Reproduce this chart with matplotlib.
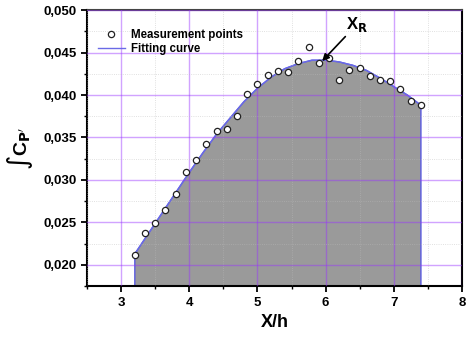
import matplotlib.pyplot as plt
from matplotlib.ticker import FuncFormatter, MultipleLocator

plt.rcParams['font.family'] = ['Liberation Sans', 'DejaVu Sans']

# measured points
meas_x = [3.20, 3.35, 3.50, 3.65, 3.80, 3.95, 4.10, 4.25, 4.40, 4.55,
          4.70, 4.85, 5.00, 5.15, 5.30, 5.45, 5.60, 5.75, 5.90, 6.05,
          6.20, 6.35, 6.50, 6.65, 6.80, 6.95, 7.10, 7.25, 7.40]
meas_y = [0.0212, 0.0237, 0.0249, 0.0265, 0.0283, 0.0309, 0.0324, 0.0342, 0.0358, 0.0360,
          0.0375, 0.0401, 0.0413, 0.0424, 0.0428, 0.0427, 0.0440, 0.0456, 0.0438, 0.0444,
          0.0418, 0.0430, 0.0432, 0.0423, 0.0418, 0.0416, 0.0407, 0.0393, 0.0388]

# fitting curve
fit_x = [3.2, 3.4, 3.6, 3.8, 4.0, 4.2, 4.4, 4.6, 4.8, 5.0, 5.2,
         5.4, 5.6, 5.8, 6.0, 6.2, 6.4, 6.6, 6.8, 7.0, 7.2, 7.4]
fit_y = [0.0213, 0.0237, 0.0261, 0.0285, 0.0309, 0.0332, 0.0354, 0.0373, 0.0392, 0.0408, 0.0421,
         0.0431, 0.0437, 0.0441, 0.0441, 0.0439, 0.0435, 0.0429, 0.0420, 0.0410, 0.0400, 0.0388]

xr_x, xr_y = 5.95, 0.0440

fig = plt.figure(figsize=(4.66, 3.37), dpi=100)
ax = fig.add_axes([0.187, 0.151, 0.804, 0.819])

ax.fill_between(fit_x, 0.0, fit_y, facecolor='#9a9a9a', edgecolor='#5a5ae0',
                linewidth=1.0, zorder=1)
ax.plot(fit_x, fit_y, color='#6a6ae6', lw=1.0, zorder=2, label='Fitting curve')
ax.plot(meas_x, meas_y, 'o', mfc='white', mec='#222222', ms=4.5, mew=0.9,
        zorder=4, label='Measurement points')

ax.set_xlim(2.5, 8)
ax.set_ylim(0.0175, 0.050)
ax.xaxis.set_major_locator(MultipleLocator(1))
ax.xaxis.set_minor_locator(MultipleLocator(0.5))
ax.yaxis.set_major_locator(MultipleLocator(0.005))
ax.yaxis.set_minor_locator(MultipleLocator(0.0025))
ax.yaxis.set_major_formatter(FuncFormatter(lambda v, p: f"{v:.3f}".replace('.', ',')))

ax.set_axisbelow(False)
ax.grid(which='major', color='#9933ff', alpha=0.45, lw=1.0, zorder=3)
ax.grid(which='minor', color='#bbbbbb', alpha=0.6, lw=0.6, ls=':', zorder=3)

ax.tick_params(which='major', direction='out', length=4, width=1.3, labelsize=9.5)
ax.tick_params(which='minor', direction='out', length=2.5, width=1.0)
ax.tick_params(top=False, right=False, which='both')
for lab in ax.get_xticklabels() + ax.get_yticklabels():
    lab.set_fontweight('bold')
for s in ax.spines.values():
    s.set_linewidth(1.5)
ax.spines['top'].set_color('#444444')

ax.set_xlabel('X/h', fontsize=13, fontweight='bold', labelpad=4)
ax.set_ylabel(r"∫C$_{\mathbf{P'}}$", fontsize=14, fontweight='bold', labelpad=6)

ax.annotate(r"X$_{\mathbf{R}}$", xy=(xr_x, xr_y), xytext=(6.3, 0.0478),
            fontsize=12, fontweight='bold',
            arrowprops=dict(arrowstyle='-|>', color='black', lw=1.2, mutation_scale=10,
                            shrinkA=0, shrinkB=0),
            zorder=5)

h, l = ax.get_legend_handles_labels()
leg = ax.legend(h[::-1], l[::-1], loc='upper left', frameon=False, fontsize=8.3,
                bbox_to_anchor=(0.0, 0.97), handlelength=2.4, handletextpad=0.5,
                labelspacing=0.2)
for t in leg.get_texts():
    t.set_fontweight('bold')

fig.savefig('out.png', dpi=100)
